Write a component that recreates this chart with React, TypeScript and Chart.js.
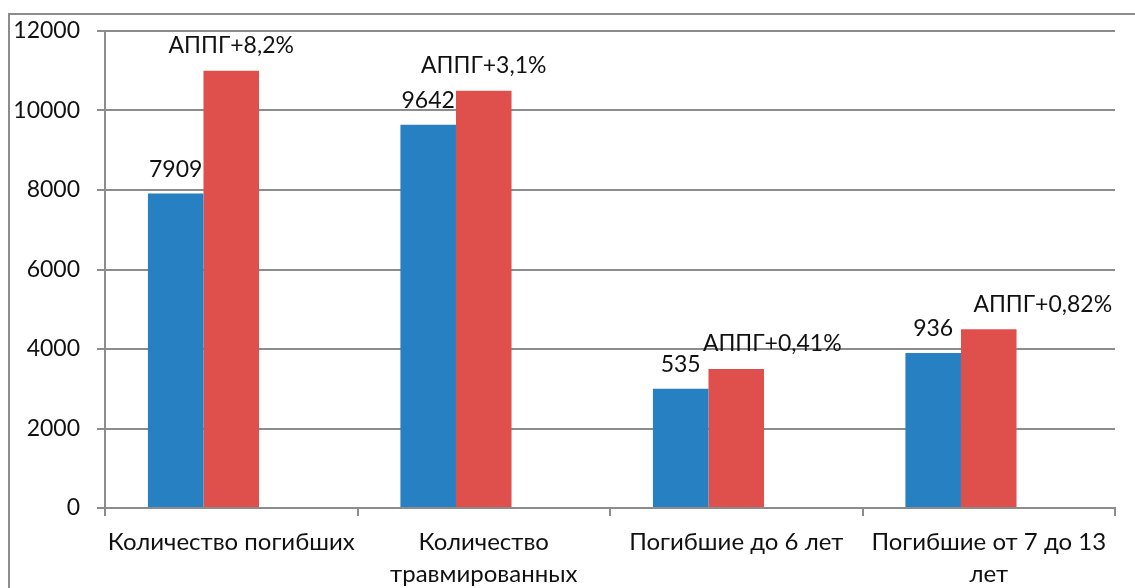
import React, { useEffect, useRef } from "react";
import { Chart, registerables } from "chart.js";

Chart.register(...registerables);

const categories: (string | string[])[] = [
  "Количество погибших",
  ["Количество", "травмированных"],
  "Погибшие до 6 лет",
  ["Погибшие от 7 до 13", "лет"],
];
const blueValues = [7909, 9642, 3000, 3900];
const redValues = [11000, 10500, 3500, 4500];
const emptyValues = [null, null, null, null];
const blueLabels = ["7909", "9642", "535", "936"];
const redLabels = ["АППГ+8,2%", "АППГ+3,1%", "АППГ+0,41%", "АППГ+0,82%"];
const yTicks = [0, 2000, 4000, 6000, 8000, 10000, 12000];

const FONT = "Lato, 'Open Sans', 'DejaVu Sans', sans-serif";
const GRID = "#8c8c8c";
const redShiftX = [0, 0, 36, 54];

const labelPlugin = {
  id: "barLabels",
  afterDatasetsDraw(chart: any) {
    const ctx = chart.ctx;
    ctx.save();
    ctx.font = `23px ${FONT}`;
    ctx.fillStyle = "#111";
    ctx.textAlign = "center";
    ctx.textBaseline = "middle";
    const m0 = chart.getDatasetMeta(0);
    const m1 = chart.getDatasetMeta(1);
    m0.data.forEach((bar: any, i: number) => {
      ctx.fillText(blueLabels[i], bar.x, bar.y - 24);
    });
    m1.data.forEach((bar: any, i: number) => {
      ctx.fillText(redLabels[i], bar.x + redShiftX[i], bar.y - 25);
    });
    ctx.restore();
  },
  beforeDraw(chart: any) {
    const ctx = chart.ctx;
    ctx.save();
    ctx.fillStyle = "#fff";
    ctx.fillRect(0, 0, chart.width, chart.height);
    ctx.strokeStyle = GRID;
    ctx.lineWidth = 2;
    ctx.beginPath();
    ctx.moveTo(9, chart.height);
    ctx.lineTo(9, 14);
    ctx.lineTo(chart.width, 14);
    ctx.stroke();
    ctx.restore();
  },
};

export default function App() {
  const ref = useRef<HTMLCanvasElement>(null);
  useEffect(() => {
    if (!ref.current) return;
    const common = { categoryPercentage: 0.66, barPercentage: 1 };
    const chart = new Chart(ref.current, {
      type: "bar",
      data: {
        labels: categories,
        datasets: [
          { data: blueValues, backgroundColor: "#2680c2", ...common },
          { data: redValues, backgroundColor: "#df4f4c", ...common },
          { data: emptyValues as any, backgroundColor: "#9bbb59", ...common },
        ],
      },
      options: {
        animation: false,
        responsive: false,
        devicePixelRatio: 1,
        layout: { padding: { left: 0, top: 31, right: 20, bottom: 0 } },
        plugins: {
          legend: { display: false },
          tooltip: { enabled: false },
        },
        scales: {
          x: {
            grid: {
              offset: true,
              drawOnChartArea: false,
              drawTicks: true,
              tickLength: 8,
              color: GRID,
              lineWidth: 2,
            },
            border: { color: GRID, width: 2 },
            ticks: {
              autoSkip: false,
              maxRotation: 0,
              minRotation: 0,
              padding: 10,
              color: "#111",
              font: { family: FONT, size: 24, lineHeight: 1.35 },
            },
            afterFit: (s: any) => {
              s.height = 80;
            },
          },
          y: {
            min: 0,
            max: 12000,
            afterBuildTicks: (s: any) => {
              s.ticks = yTicks.map((v) => ({ value: v }));
            },
            grid: {
              color: GRID,
              lineWidth: 2,
              tickLength: 8,
            },
            border: { color: GRID, width: 2 },
            ticks: {
              padding: 17,
              color: "#111",
              font: { family: FONT, size: 23 },
              callback: (v: any) => String(v),
            },
            afterFit: (s: any) => {
              s.width = 105;
            },
          },
        },
      },
      plugins: [labelPlugin],
    });
    return () => chart.destroy();
  }, []);
  return (
    <div style={{ position: "fixed", left: 0, top: 0, width: 1135, height: 588 }}>
      <canvas ref={ref} width={1135} height={588} style={{ display: "block" }} />
    </div>
  );
}
